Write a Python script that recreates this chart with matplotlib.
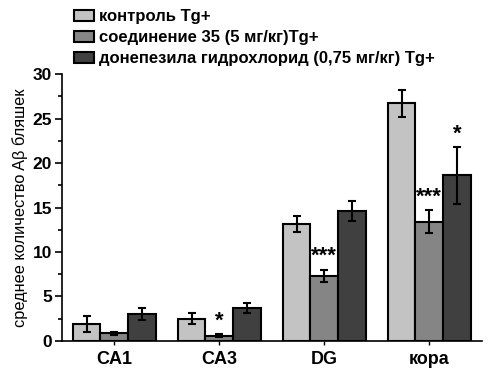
import numpy as np
import matplotlib.pyplot as plt
from matplotlib.ticker import MultipleLocator

# DATA #
regions = ['CA1', 'CA3', 'DG', 'кора']
series_names = ['контроль Tg+', 'соединение 35 (5 мг/кг)Tg+',
                'донепезила гидрохлорид (0,75 мг/кг) Tg+']
control = [1.9, 2.5, 13.1, 26.7]
control_err = [0.9, 0.6, 0.9, 1.5]
compound = [0.85, 0.6, 7.3, 13.4]
compound_err = [0.2, 0.15, 0.7, 1.3]
donepezil = [3.0, 3.7, 14.6, 18.6]
donepezil_err = [0.7, 0.6, 1.1, 3.2]
# significance marks: (region index, series index, text)
stars = [(1, 1, '*'), (2, 1, '***'), (3, 1, '***'), (3, 2, '*')]

colors = ['#c3c3c3', '#858585', '#404040']

plt.rcParams['font.family'] = ['Liberation Sans', 'DejaVu Sans']

fig = plt.figure(figsize=(5.03, 3.78), dpi=100)
ax = fig.add_axes([0.123, 0.098, 0.835, 0.706])

x = np.arange(len(regions))
w = 0.265
vals = [control, compound, donepezil]
errs = [control_err, compound_err, donepezil_err]
handles = []
for i in range(3):
    b = ax.bar(x + (i - 1) * w, vals[i], w, color=colors[i], edgecolor='black',
               linewidth=1.5, yerr=errs[i],
               error_kw=dict(ecolor='black', elinewidth=1.5, capsize=3, capthick=1.5))
    handles.append(b)

for r, s, t in stars:
    top = vals[s][r] + errs[s][r]
    ax.text(x[r] + (s - 1) * w, top + 0.3, t, ha='center', va='bottom',
            fontsize=16, fontweight='bold')

ax.set_xlim(-0.5, 3.5)
ax.set_ylim(0, 30)
ax.yaxis.set_major_locator(MultipleLocator(5))
ax.yaxis.set_minor_locator(MultipleLocator(2.5))
ax.set_xticks(x)
ax.set_xticklabels(regions, fontsize=13, fontweight='bold')
for lbl in ax.get_yticklabels():
    lbl.set_fontsize(12.5)
    lbl.set_fontweight('bold')
ax.tick_params(axis='y', which='major', length=5, width=1.2, pad=2)
ax.tick_params(axis='y', which='minor', length=3, width=1.2)
ax.tick_params(axis='x', length=3, width=1, pad=4)
ax.spines['top'].set_visible(False)
ax.spines['right'].set_visible(False)
ax.spines['left'].set_linewidth(1.2)
ax.spines['bottom'].set_linewidth(1.2)
ax.set_ylabel('среднее количество Aβ бляшек', fontsize=11.8, labelpad=3)

fig.legend(handles, series_names, loc='upper left',
           bbox_to_anchor=(0.128, 1.0), frameon=False,
           prop={'weight': 'bold', 'size': 12},
           handlelength=1.2, handleheight=0.6, handletextpad=0.3,
           labelspacing=0.36, borderaxespad=0.15)

fig.savefig('out.png', dpi=100)
